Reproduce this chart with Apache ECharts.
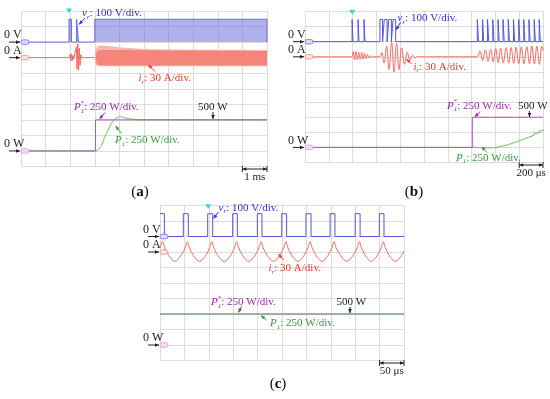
<!DOCTYPE html>
<html><head><meta charset="utf-8">
<script src="https://cdn.jsdelivr.net/npm/echarts@6/dist/echarts.min.js"></script>
<style>html,body{margin:0;padding:0;background:#fff}#c{width:550px;height:399px}</style>
</head><body><div id="c"></div>
<script>
// ---------- data (x and y in oscilloscope divisions) ----------
const zeroLabels = ['0 V', '0 A', '0 W'];
const zeroLevels = [8, 7, 1];          // channel ground levels (div)
const scaleLabels = ['1 ms', '200 μs', '50 μs'];
const panelLabels = ['a', 'b', 'c'];
const vHigh = 9.47;

// Panel (a)
const aVolt = [[0,8],[1.95,8],[1.95,vHigh],[2.05,vHigh],[2.05,8],[2.26,8],[2.26,vHigh],[2.34,vHigh],[2.34,8],[3.0,8],[3.0,vHigh],[10,vHigh],[10,8]];
const aCur = [[0,7],[1.96,7],[1.99,7.2],[2.02,6.8],[2.05,7.25],[2.08,6.8],[2.11,7.15],[2.14,6.9],[2.17,7],[2.22,7],[2.25,7.7],[2.28,6.25],[2.31,7.9],[2.34,6.2],[2.37,7.6],[2.40,6.5],[2.43,7.2],[2.46,7],[3.0,7]];
const aCurOuterTop = [[3.0,7.0],[3.01,7.35],[3.05,7.6],[3.12,7.74],[3.25,7.78],[3.6,7.74],[4.2,7.64],[5.0,7.56],[6.0,7.52],[10,7.5]];
const aCurOuterBot = [[3.0,7.0],[3.01,6.7],[3.05,6.52],[3.15,6.45],[10,6.45]];
const aCurInnerTop = [[3.04,7.0],[3.06,7.3],[3.12,7.45],[3.3,7.5],[10,7.42]];
const aCurInnerBot = [[3.04,7.0],[3.06,6.7],[3.12,6.55],[3.3,6.5],[10,6.5]];
const aPref = [[0,1],[3.03,1],[3.03,3],[10,3]];
const aPow = [[0,1],[3.0,1],[3.1,1.05],[3.2,1.2],[3.28,1.37],[3.38,1.8],[3.48,2.13],[3.6,2.55],[3.69,2.8],[3.82,3.05],[3.92,3.15],[4.02,3.2],[4.15,3.17],[4.3,3.1],[4.45,3.06],[4.63,3.03],[4.85,3.0],[10,3]];

// Panel (b)
const bPulses = [[1.98,2.02],[2.23,2.27],[2.48,2.52],[3.15,3.26],[3.33,3.45],[3.52,3.63],[3.70,3.81],
  [7.24,7.29],[7.46,7.51],[7.67,7.72],[7.89,7.94],[8.11,8.16],[8.32,8.37],[8.54,8.59],[8.76,8.81],[8.98,9.03],[9.19,9.24],[9.41,9.46],[9.63,9.68],[9.84,9.89]];
const bCur = [[0,7],[1.97,7],[2.02,7.35],[2.08,6.8],[2.14,7.35],[2.2,6.8],[2.26,7.3],[2.32,6.82],[2.38,7.28],[2.44,6.85],[2.5,7.22],[2.56,6.88],[2.62,7.15],[2.68,6.92],[2.74,7.08],[2.8,6.96],[2.86,7.02],[2.92,7],[3.15,7],
  [3.22,7.3],[3.32,6.6],[3.43,7.7],[3.53,6.15],[3.64,7.95],[3.74,6.0],[3.85,7.9],[3.95,6.15],[4.06,7.6],[4.18,6.5],[4.30,7.3],[4.41,6.8],[4.52,7.12],[4.62,6.92],[4.72,7.03],[4.82,7],[7.22,7],
  [7.35,7.38],[7.46,6.75],[7.58,7.45],[7.69,6.7],[7.80,7.5],[7.91,6.65],[8.01,7.55],[8.12,6.62],[8.22,7.58],[8.33,6.6],[8.45,7.6],[8.56,6.58],[8.66,7.62],[8.77,6.56],[8.87,7.64],[8.98,6.55],[9.09,7.66],[9.2,6.54],[9.32,7.68],[9.43,6.53],[9.53,7.7],[9.64,6.52],[9.74,7.7],[9.85,6.5],[9.95,7.7],[10,7.4]];
const bPref = [[0,1],[7.03,1],[7.03,3],[10,3]];
const bPow = [[0,1],[7.0,1],[7.2,0.97],[7.6,0.97],[7.89,1.02],[8.11,1.1],[8.32,1.18],[8.54,1.3],[8.76,1.42],[8.98,1.55],[9.19,1.68],[9.41,1.81],[9.63,1.95],[9.84,2.1],[10,2.2]];

// Panel (c)
const cPulses = [[0,0.18],[0.955,1.16],[1.955,2.16],[2.98,3.17],[3.99,4.18],[4.99,5.19],[5.98,6.19],[6.97,7.17],[8.0,8.2],[8.99,9.18]];
const cCur = [[0,7.3],[0.11,7.67],[0.19,7.3],[0.36,6.77],[0.61,6.4],[0.86,6.77],[1.04,7.3],
  [1.12,7.67],[1.2,7.3],[1.37,6.77],[1.62,6.4],[1.87,6.77],[2.04,7.3],
  [2.12,7.67],[2.2,7.3],[2.37,6.77],[2.63,6.4],[2.89,6.77],[3.06,7.3],
  [3.14,7.67],[3.22,7.3],[3.39,6.77],[3.64,6.4],[3.89,6.77],[4.06,7.3],
  [4.14,7.67],[4.22,7.3],[4.4,6.77],[4.65,6.4],[4.9,6.77],[5.08,7.3],
  [5.16,7.67],[5.24,7.3],[5.41,6.77],[5.65,6.4],[5.9,6.77],[6.07,7.3],
  [6.15,7.67],[6.23,7.3],[6.4,6.77],[6.64,6.4],[6.88,6.77],[7.05,7.3],
  [7.13,7.67],[7.21,7.3],[7.4,6.77],[7.65,6.4],[7.91,6.77],[8.09,7.3],
  [8.17,7.67],[8.25,7.3],[8.42,6.77],[8.66,6.4],[8.9,6.77],[9.07,7.3],
  [9.15,7.67],[9.23,7.3],[9.4,6.77],[9.65,6.4],[9.9,6.77],[10,7.05]];
const cPref = [[0,3],[10,3]];
const cPow = [[0,3],[10,3]];

// ---------- styling ----------
const FONT = 'Liberation Serif';
const COL = { blue:'#5656dc', blueTxt:'#2f2fd6', red:'#f26a62', redTxt:'#e8392f', purple:'#b055c8', purpleTxt:'#962aa8', green:'#6cc05c', greenTxt:'#3a9a3a', grid:'#dcdcdc', cyan:'#35d0e0' };

const grids = [
  {left:21, top:11, width:246, height:155.5},
  {left:305, top:11.5, width:238, height:151},
  {left:160, top:205.5, width:244, height:155}
];

function square(pulses, lo, hi) {
  const pts = [];
  if (pulses[0][0] > 0) pts.push([0, lo]);
  pulses.forEach(([r, f]) => { pts.push([r, r === 0 ? hi : lo]); pts.push([r, hi]); pts.push([f, hi]); pts.push([f, lo]); });
  pts.push([10, lo]);
  return pts;
}
function line(gi, data, color, extra) {
  return Object.assign({type:'line', xAxisIndex:gi, yAxisIndex:gi, data, showSymbol:false, symbol:'none', animation:false, silent:true,
    lineStyle:{color, width:1}, itemStyle:{color}}, extra || {});
}
function poly(gi, top, bot, fill) {
  const pts = top.concat(bot.slice().reverse());
  return {type:'custom', xAxisIndex:gi, yAxisIndex:gi, data:[[0,0]], animation:false, silent:true,
    renderItem:(p, api) => ({type:'polygon', shape:{points: pts.map(q => api.coord(q))}, style:{fill}})};
}

const axisBase = {type:'value', min:0, max:10, interval:1, axisLine:{show:false}, axisTick:{show:false}, axisLabel:{show:false},
  splitLine:{show:true, lineStyle:{color:COL.grid, width:1}}};

const option = {
  animation:false,
  grid: grids,
  xAxis: grids.map((g,i) => Object.assign({gridIndex:i}, axisBase)),
  yAxis: grids.map((g,i) => Object.assign({gridIndex:i}, axisBase)),
  series: [
    line(0, aVolt, '#6a6ed8', {areaStyle:{origin:8, color:'rgba(110,116,220,0.8)'}}),
    line(0, aCur, COL.red),
    poly(0, aCurOuterTop, aCurOuterBot, '#fbb5ae'),
    poly(0, aCurInnerTop, aCurInnerBot, '#f5847a'),
    line(0, aPow, COL.green, {smooth:0.3}),
    line(0, aPref, COL.purple),
    line(1, square(bPulses, 8, vHigh), COL.blue),
    line(1, bCur, COL.red, {smooth:0.4}),
    line(1, bPow, COL.green, {step:'end'}),
    line(1, bPref, COL.purple),
    line(2, square(cPulses, 8, vHigh), COL.blue),
    line(2, cCur, COL.red, {smooth:0.35}),
    line(2, cPref, COL.purple),
    line(2, cPow, COL.green)
  ]
};

const chart = echarts.init(document.getElementById('c'), null, {renderer:'canvas'});
chart.setOption(option);

// ---------- annotations ----------
const rich = (c) => ({
  i:{fontFamily:FONT, fontStyle:'italic', fontSize:11, fill:c},
  s:{fontFamily:FONT, fontStyle:'italic', fontSize:7, fill:c, verticalAlign:'bottom', lineHeight:14},
  n:{fontFamily:FONT, fontSize:11, fill:c}
});
const G = [];
function txt(x, y, text, color, opts) {
  G.push({type:'text', silent:true, z:100, style:Object.assign({x, y, text, fill:color, font:'11px "' + FONT + '"', verticalAlign:'middle', align:'left', rich:rich(color)}, opts || {})});
}
function star(x, y, color) {
  G.push({type:'text', silent:true, z:100, style:{x:x + 6.8, y:y - 4.5, text:'*', fill:color, font:'7px "' + FONT + '"', verticalAlign:'middle', align:'left'}});
}
function arrow(x1, y1, x2, y2, color, both) {
  G.push({type:'line', silent:true, z:100, shape:{x1, y1, x2, y2}, style:{stroke:color, lineWidth:1}});
  const head = (ax, ay, bx, by) => {
    const dx = bx - ax, dy = by - ay, L = Math.hypot(dx, dy), ux = dx / L, uy = dy / L, len = 4, w = 1.8;
    G.push({type:'polygon', silent:true, z:101, shape:{points:[[bx, by],[bx - ux*len - uy*w, by - uy*len + ux*w],[bx - ux*len + uy*w, by - uy*len - ux*w]]}, style:{fill:color}});
  };
  head(x1, y1, x2, y2);
  if (both) head(x2, y2, x1, y1);
}
function trig(x, y) {
  G.push({type:'polygon', silent:true, z:100, shape:{points:[[x-3, y-2.5],[x+3, y-2.5],[x, y+2]]}, style:{fill:COL.cyan}});
}
const capsule = [['#6b6be0','#dcdcfa'],['#f08a84','#fde2e0'],['#d79ad8','#f4dcf2']];
grids.forEach((g, gi) => {
  zeroLevels.forEach((lev, k) => {
    const [px, py] = chart.convertToPixel({gridIndex:gi}, [0, lev]);
    txt(px - 17, py - 7, zeroLabels[k], '#222', {font:'12px "' + FONT + '"'});
    arrow(px - 12, py, px - 1, py, '#222');
    G.push({type:'rect', silent:true, z:102, shape:{x:px, y:py - 2.3, width:8, height:4.6, r:2.3}, style:{fill:capsule[k][1], stroke:capsule[k][0], lineWidth:0.8}});
  });
  // scale bar: last division
  const [xa, yb] = chart.convertToPixel({gridIndex:gi}, [9, 0]);
  const [xb] = chart.convertToPixel({gridIndex:gi}, [10, 0]);
  const yy = yb + 2.5;
  arrow(xa, yy, xb, yy, '#222', true);
  G.push({type:'line', silent:true, shape:{x1:xa, y1:yy - 3, x2:xa, y2:yy + 3}, style:{stroke:'#222', lineWidth:1}});
  G.push({type:'line', silent:true, shape:{x1:xb, y1:yy - 3, x2:xb, y2:yy + 3}, style:{stroke:'#222', lineWidth:1}});
  txt((xa + xb) / 2, yy + 8.5, scaleLabels[gi], '#222', {align:'center'});
});

function pref(x, y) { txt(x, y, '{i|P}{s|1}{n|: 250 W/div.}', COL.purpleTxt); star(x, y, COL.purpleTxt); }

// panel (a)
trig(69, 11);
txt(82, 13.5, '{i|v}{s|r}{n|: 100 V/div.}', COL.blueTxt);
arrow(85, 18, 79, 24.5, COL.blueTxt);
txt(138.5, 78.5, '{i|i}{s|r}{n|: 30 A/div.}', COL.redTxt);
arrow(155, 71.5, 148.5, 65, COL.redTxt);
pref(74, 107.5);
arrow(105, 112.5, 99.5, 119, COL.purpleTxt);
txt(115, 140.5, '{i|P}{s|1}{n|: 250 W/div.}', COL.greenTxt);
arrow(121.5, 133.5, 115.5, 126, COL.greenTxt);
txt(198, 107.5, '500 W', '#222');
arrow(213, 112, 213, 119, '#222');
// panel (b)
trig(352.3, 12.5);
txt(397.5, 18.5, '{i|v}{s|r}{n|: 100 V/div.}', COL.blueTxt);
arrow(400.5, 22.5, 396, 30, COL.blueTxt);
txt(413.5, 67, '{i|i}{s|r}{n|: 30 A/div.}', COL.redTxt);
arrow(411.5, 64, 406.5, 59, COL.redTxt);
pref(447, 106);
arrow(480, 111.5, 475, 117, COL.purpleTxt);
txt(518, 106, '500 W', '#222');
arrow(529.5, 111, 529.5, 117, '#222');
txt(456, 158, '{i|P}{s|1}{n|: 250 W/div.}', COL.greenTxt);
arrow(487, 152.5, 481.5, 147, COL.greenTxt);
// panel (c)
trig(208.3, 206.7);
txt(218.5, 208, '{i|v}{s|r}{n|: 100 V/div.}', COL.blueTxt);
arrow(218.5, 212, 213.5, 218.5, COL.blueTxt);
txt(268.5, 268.5, '{i|i}{s|r}{n|: 30 A/div.}', COL.redTxt);
arrow(283.5, 260, 278.5, 254, COL.redTxt);
pref(211, 302.5);
arrow(241.5, 306.5, 238.5, 312.5, COL.purpleTxt);
txt(270, 323.5, '{i|P}{s|1}{n|: 250 W/div.}', COL.greenTxt);
arrow(266.5, 320, 261, 315.5, COL.greenTxt);
txt(336.5, 302.5, '500 W', '#222');
arrow(350, 307, 350, 313, '#222');
// panel captions
const capPos = [[140, 192], [414, 192], [278, 384]];
panelLabels.forEach((l, i) => {
  G.push({type:'text', silent:true, style:{x:capPos[i][0], y:capPos[i][1], text:'({b|' + l + '})', fill:'#111', font:'15px "' + FONT + '"', align:'center', verticalAlign:'middle',
    rich:{b:{fontFamily:FONT, fontWeight:'bold', fontSize:15, fill:'#111'}}}});
});
chart.setOption({graphic:{elements:G}});
</script></body></html>
